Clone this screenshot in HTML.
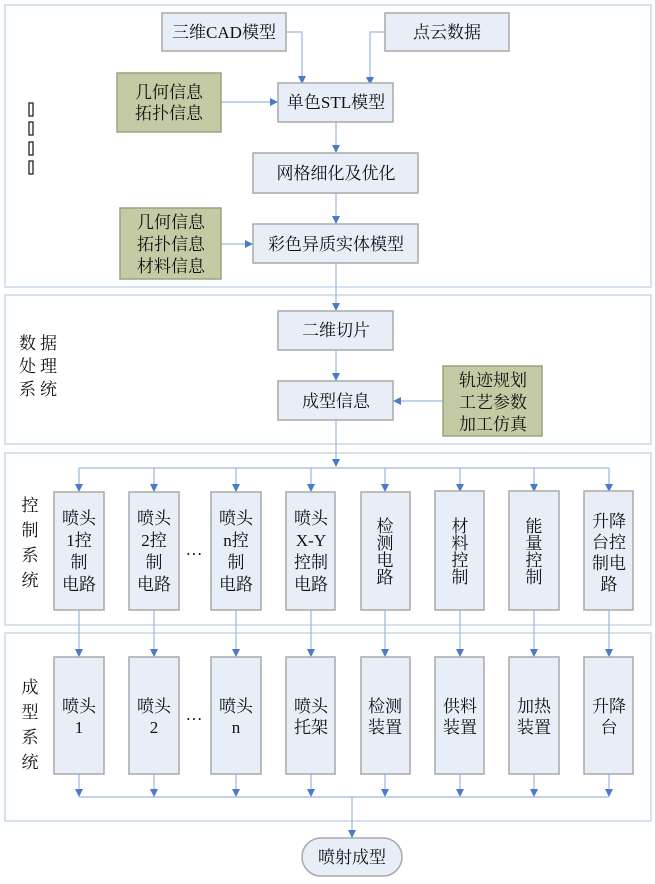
<!DOCTYPE html>
<html><head><meta charset="utf-8"><style>
html,body{margin:0;padding:0;background:#fff}
text{font-family:"Liberation Serif","Noto Serif CJK SC",serif;font-size:17px;fill:#111}
.p{fill:#fff;stroke:#c9d7ec;stroke-width:1.5}
.b{fill:#e8eef8;stroke:#a8a8a8;stroke-width:1.5}
.g{fill:#c4cba4;stroke:#9aa382;stroke-width:1.5}
.l{stroke:#9ab8e0;stroke-width:1.2;fill:none}
</style></head><body>
<svg width="655" height="879" viewBox="0 0 655 879" xmlns="http://www.w3.org/2000/svg">
<defs><marker id="a" markerWidth="8" markerHeight="8" refX="7" refY="4" orient="auto" markerUnits="userSpaceOnUse"><path d="M0,0 L8,4 L0,8 z" fill="#4a7cc6"/></marker></defs>
<rect class="p" x="5" y="5" width="646" height="282"/>
<rect class="p" x="5" y="295" width="646" height="149"/>
<rect class="p" x="5" y="453" width="646" height="172"/>
<rect class="p" x="5" y="633" width="646" height="188"/>
<g fill="none" stroke="#111" stroke-width="1.2">
<rect x="29" y="103" width="4" height="13"/><rect x="29" y="122" width="4" height="13"/><rect x="29" y="142" width="4" height="13"/><rect x="29" y="161" width="4" height="13"/></g>
<path class="l" d="M286,32 H302 V83" marker-end="url(#a)"/>
<path class="l" d="M385,32 H370 V84" marker-end="url(#a)"/>
<path class="l" d="M221,102 H277" marker-end="url(#a)"/>
<path class="l" d="M336,122 V152" marker-end="url(#a)"/>
<path class="l" d="M336,193 V223" marker-end="url(#a)"/>
<path class="l" d="M221,244 H252" marker-end="url(#a)"/>
<path class="l" d="M336,263 V310" marker-end="url(#a)"/>
<path class="l" d="M336,350 V380" marker-end="url(#a)"/>
<path class="l" d="M443,401 H394" marker-end="url(#a)"/>
<path class="l" d="M336,420 V466" marker-end="url(#a)"/>
<path class="l" d="M79,468 H609"/>
<g class="l">
<path d="M79,468V491" marker-end="url(#a)"/><path d="M154,468V491" marker-end="url(#a)"/><path d="M236,468V491" marker-end="url(#a)"/><path d="M311,468V491" marker-end="url(#a)"/><path d="M385,468V491" marker-end="url(#a)"/><path d="M460,468V491" marker-end="url(#a)"/><path d="M534,468V491" marker-end="url(#a)"/><path d="M609,468V491" marker-end="url(#a)"/>
<path d="M79,610V656" marker-end="url(#a)"/><path d="M154,610V656" marker-end="url(#a)"/><path d="M236,610V656" marker-end="url(#a)"/><path d="M311,610V656" marker-end="url(#a)"/><path d="M385,610V656" marker-end="url(#a)"/><path d="M460,610V656" marker-end="url(#a)"/><path d="M534,610V656" marker-end="url(#a)"/><path d="M609,610V656" marker-end="url(#a)"/>
<path d="M79,774V796" marker-end="url(#a)"/><path d="M154,774V796" marker-end="url(#a)"/><path d="M236,774V796" marker-end="url(#a)"/><path d="M311,774V796" marker-end="url(#a)"/><path d="M385,774V796" marker-end="url(#a)"/><path d="M460,774V796" marker-end="url(#a)"/><path d="M534,774V796" marker-end="url(#a)"/><path d="M609,774V796" marker-end="url(#a)"/>
</g>
<path class="l" d="M79,797 H609"/>
<path class="l" d="M352,797 V837" marker-end="url(#a)"/>
<rect class="b" x="162" y="13" width="124" height="38"/><text x="224" y="38" text-anchor="middle">三维CAD模型</text>
<rect class="b" x="385" y="13" width="124" height="38"/><text x="447" y="38" text-anchor="middle">点云数据</text>
<rect class="g" x="117" y="73" width="104" height="59"/><text x="169" y="98" text-anchor="middle">几何信息</text><text x="169" y="119" text-anchor="middle">拓扑信息</text>
<rect class="b" x="278" y="83" width="115" height="39"/><text x="336" y="108" text-anchor="middle">单色STL模型</text>
<rect class="b" x="253" y="153" width="165" height="40"/><text x="336" y="179" text-anchor="middle">网格细化及优化</text>
<rect class="g" x="120" y="208" width="101" height="71"/><text x="171" y="228" text-anchor="middle">几何信息</text><text x="171" y="250" text-anchor="middle">拓扑信息</text><text x="171" y="272" text-anchor="middle">材料信息</text>
<rect class="b" x="253" y="224" width="165" height="39"/><text x="336" y="250" text-anchor="middle">彩色异质实体模型</text>
<text x="19" y="349" letter-spacing="4">数据</text><text x="19" y="372" letter-spacing="4">处理</text><text x="19" y="395" letter-spacing="4">系统</text>
<rect class="b" x="278" y="311" width="115" height="39"/><text x="336" y="336" text-anchor="middle">二维切片</text>
<rect class="b" x="278" y="381" width="115" height="39"/><text x="336" y="407" text-anchor="middle">成型信息</text>
<rect class="g" x="443" y="366" width="99" height="70"/><text x="493" y="386" text-anchor="middle">轨迹规划</text><text x="493" y="408" text-anchor="middle">工艺参数</text><text x="493" y="430" text-anchor="middle">加工仿真</text>
<g text-anchor="middle">
<text x="30" y="511">控</text><text x="30" y="536">制</text><text x="30" y="561">系</text><text x="30" y="586">统</text>
<text x="30" y="693">成</text><text x="30" y="718">型</text><text x="30" y="743">系</text><text x="30" y="768">统</text>
</g>
<g class="b">
<rect x="54" y="492" width="50" height="118"/><rect x="129" y="492" width="50" height="118"/><rect x="211" y="492" width="50" height="118"/><rect x="286" y="492" width="49" height="118"/><rect x="361" y="492" width="49" height="118"/><rect x="435" y="491" width="49" height="119"/><rect x="509" y="491" width="50" height="119"/><rect x="584" y="491" width="49" height="119"/>
<rect x="54" y="657" width="50" height="117"/><rect x="129" y="657" width="50" height="117"/><rect x="211" y="657" width="50" height="117"/><rect x="286" y="657" width="49" height="117"/><rect x="361" y="657" width="49" height="117"/><rect x="435" y="657" width="49" height="117"/><rect x="509" y="657" width="50" height="117"/><rect x="584" y="657" width="49" height="117"/>
</g>
<g text-anchor="middle">
<text x="79" y="524">喷头</text><text x="79" y="546">1控</text><text x="79" y="568">制</text><text x="79" y="590">电路</text>
<text x="154" y="524">喷头</text><text x="154" y="546">2控</text><text x="154" y="568">制</text><text x="154" y="590">电路</text>
<text x="194" y="555">…</text>
<text x="236" y="524">喷头</text><text x="236" y="546">n控</text><text x="236" y="568">制</text><text x="236" y="590">电路</text>
<text x="311" y="524">喷头</text><text x="311" y="546">X-Y</text><text x="311" y="568">控制</text><text x="311" y="590">电路</text>
<text x="385" y="532">检</text><text x="385" y="549">测</text><text x="385" y="566">电</text><text x="385" y="583">路</text>
<text x="460" y="532">材</text><text x="460" y="549">料</text><text x="460" y="566">控</text><text x="460" y="583">制</text>
<text x="534" y="532">能</text><text x="534" y="549">量</text><text x="534" y="566">控</text><text x="534" y="583">制</text>
<text x="609" y="527">升降</text><text x="609" y="548">台控</text><text x="609" y="569">制电</text><text x="609" y="590">路</text>
<text x="79" y="712">喷头</text><text x="79" y="733">1</text>
<text x="154" y="712">喷头</text><text x="154" y="733">2</text>
<text x="194" y="720">…</text>
<text x="236" y="712">喷头</text><text x="236" y="733">n</text>
<text x="311" y="712">喷头</text><text x="311" y="733">托架</text>
<text x="385" y="712">检测</text><text x="385" y="733">装置</text>
<text x="460" y="712">供料</text><text x="460" y="733">装置</text>
<text x="534" y="712">加热</text><text x="534" y="733">装置</text>
<text x="609" y="712">升降</text><text x="609" y="733">台</text>
</g>
<rect class="b" x="302" y="838" width="100" height="38" rx="19"/><text x="352" y="863" text-anchor="middle">喷射成型</text>
</svg>
</body></html>
